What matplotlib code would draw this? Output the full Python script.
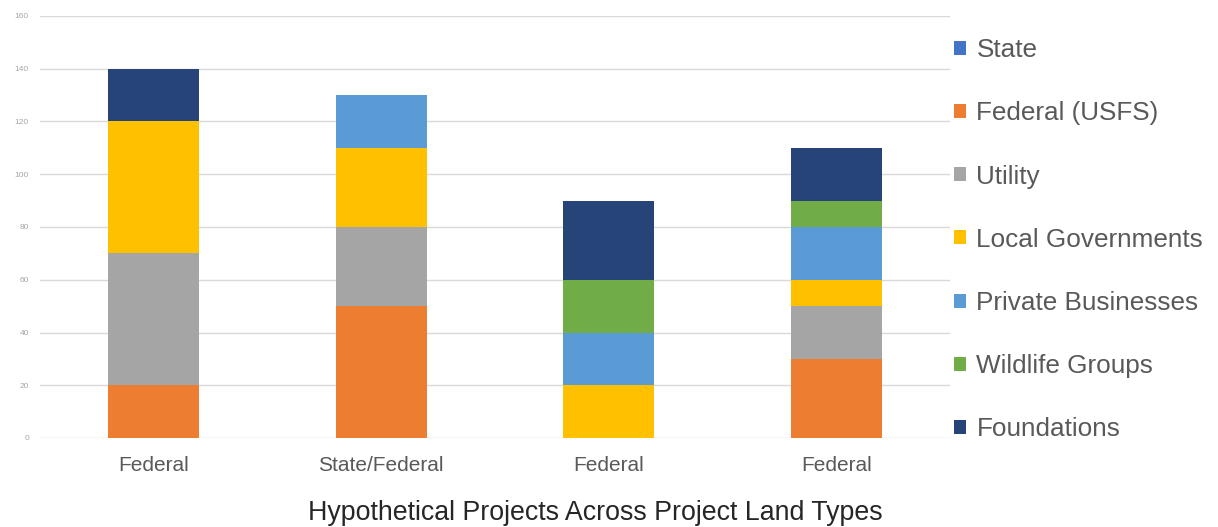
import numpy as np
import matplotlib.pyplot as plt
from matplotlib.patches import Patch

plt.rcParams['font.family'] = ['Liberation Sans', 'DejaVu Sans']

## DATA ##
categories = ["Federal", "State/Federal", "Federal", "Federal"]
series_names = ["State", "Federal (USFS)", "Utility", "Local Governments",
                "Private Businesses", "Wildlife Groups", "Foundations"]
state = [0, 0, 0, 0]
federal_usfs = [20, 50, 0, 30]
utility = [50, 30, 0, 20]
local_gov = [50, 30, 20, 10]
private_biz = [0, 20, 20, 20]
wildlife = [0, 0, 20, 10]
foundations = [20, 0, 30, 20]
y_ticks = list(range(0, 161, 20))

## STYLE ##
colors = ["#4472C4", "#ED7D31", "#A5A5A5", "#FFC000",
          "#5B9BD5", "#70AD47", "#264478"]
text_color = "#595959"

fig = plt.figure(figsize=(12.18, 5.27), dpi=100, facecolor='white')
ax = fig.add_axes([40 / 1218, 89 / 527, 910 / 1218, 422 / 527])

x = np.arange(len(categories))
bottom = np.zeros(len(categories))
for vals, col in zip([state, federal_usfs, utility, local_gov,
                      private_biz, wildlife, foundations], colors):
    vals = np.array(vals, dtype=float)
    ax.bar(x, vals, width=0.4, bottom=bottom, color=col, zorder=3)
    bottom += vals

ax.set_xlim(-0.5, len(categories) - 0.5)
ax.set_ylim(0, 160)
ax.set_yticks(y_ticks)
ax.set_xticks(x, labels=categories)
ax.grid(True, axis='y', color='#d9d9d9', linewidth=1, zorder=0)
for spine in ax.spines.values():
    spine.set_visible(False)
ax.tick_params(axis='y', length=0, labelsize=6, labelcolor='#a6a6a6', pad=8)
ax.tick_params(axis='x', length=0, labelsize=15, labelcolor=text_color, pad=13)

fig.text(595 / 1218, 14 / 527, "Hypothetical Projects Across Project Land Types",
         ha='center', va='center', fontsize=19.3, color='#262626')

handles = [Patch(facecolor=c, edgecolor='none', label=n)
           for c, n in zip(colors, series_names)]
fig.legend(handles=handles, loc='upper left', bbox_to_anchor=(936 / 1218, 507 / 527),
           frameon=False, fontsize=18.8, labelcolor=text_color,
           handlelength=0.45, handleheight=0.45, handletextpad=0.4,
           labelspacing=1.5, borderaxespad=0.3)

fig.savefig("out.png", dpi=100, facecolor='white')
